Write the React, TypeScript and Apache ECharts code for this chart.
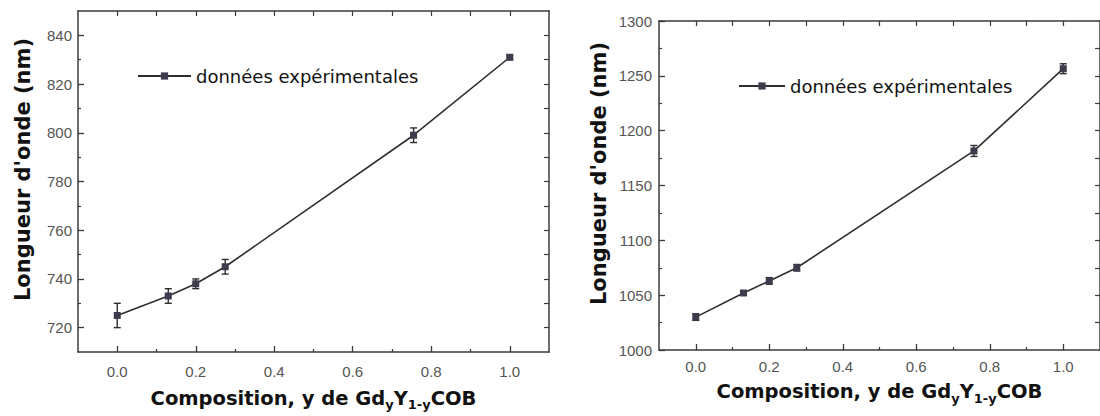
import React, { useEffect, useRef } from "react";
import * as echarts from "echarts";

// ---------- data ----------
const compositionLeft = [0, 0.13, 0.2, 0.275, 0.755, 1.0];
const wavelengthLeft = [725, 733, 738, 745, 799, 831];
const errorLeft = [5, 3, 2, 3, 3, 1];

const compositionRight = [0, 0.13, 0.2, 0.275, 0.757, 1.0];
const wavelengthRight = [1030, 1052, 1063, 1075, 1181.5, 1256.5];
const errorRight = [3, 2, 3, 3, 5, 4.5];

const xMajorTicks = [0, 0.2, 0.4, 0.6, 0.8, 1.0];
const xMinorTicks = [0.1, 0.3, 0.5, 0.7, 0.9];
const xTopTicks = [0, 0.1, 0.2, 0.3, 0.4, 0.5, 0.6, 0.7, 0.8, 0.9, 1.0];
const yLeftMajorTicks = [720, 740, 760, 780, 800, 820, 840];
const yLeftMinorTicks = [730, 750, 770, 790, 810, 830];
const yLeftAllTicks = [720, 730, 740, 750, 760, 770, 780, 790, 800, 810, 820, 830, 840];
const yRightMajorTicks = [1000, 1050, 1100, 1150, 1200, 1250, 1300];
const yRightMinorTicks = [1025, 1075, 1125, 1175, 1225, 1275];
const yRightAllTicks = [1025, 1050, 1075, 1100, 1125, 1150, 1175, 1200, 1225, 1250, 1275];

const seriesName = "données expérimentales";
const yTitle = "Longueur d'onde (nm)";
const xTitle = "Composition, y de Gd{sub|y}Y{sub|1-y}COB";

// ---------- styles ----------
const AXIS_COLOR = "#3a3a3a";
const LABEL_COLOR = "#555";
const LINE_COLOR = "#2e2e2e";
const MARKER_COLOR = "#3c3c4e";
const TITLE_FONT = "DejaVu Sans";
const LABEL_FONT = "Liberation Sans";

const axisLineStyle = { show: true, onZero: false, lineStyle: { color: AXIS_COLOR, width: 1.5 } };
const hiddenLine = { show: false, onZero: false };

function xAxes(grid: number, min: number, max: number, labelMargin: number, nameGap: number) {
  return [
    {
      gridIndex: grid, type: "value", position: "bottom", min, max,
      axisLine: axisLineStyle,
      axisTick: { show: true, inside: true, length: 6, customValues: xMajorTicks, lineStyle: { color: AXIS_COLOR, width: 1.3 } },
      axisLabel: {
        show: true, customValues: xMajorTicks, margin: labelMargin, color: LABEL_COLOR, fontFamily: LABEL_FONT, fontSize: 15,
        formatter: (v: number) => v.toFixed(1),
      },
      splitLine: { show: false },
      name: xTitle, nameLocation: "middle", nameGap,
      nameTextStyle: {
        fontFamily: TITLE_FONT, fontWeight: "bold", fontSize: 19.5, color: "#111", lineHeight: 26,
        rich: { sub: { fontFamily: TITLE_FONT, fontWeight: "bold", fontSize: 13, lineHeight: 13, verticalAlign: "bottom", color: "#111" } },
      },
    },
    {
      gridIndex: grid, type: "value", position: "bottom", min, max,
      axisLine: hiddenLine,
      axisTick: { show: true, inside: true, length: 3, customValues: xMinorTicks, lineStyle: { color: AXIS_COLOR, width: 1.2 } },
      axisLabel: { show: false },
      splitLine: { show: false },
    },
    {
      gridIndex: grid, type: "value", position: "top", min, max,
      axisLine: axisLineStyle,
      axisTick: { show: true, inside: true, length: 5, customValues: xTopTicks, lineStyle: { color: AXIS_COLOR, width: 1.2 } },
      axisLabel: { show: false },
      splitLine: { show: false },
    },
  ];
}

function yAxes(grid: number, min: number, max: number, major: number[], minor: number[], all: number[], nameGap: number, margin: number) {
  return [
    {
      gridIndex: grid, type: "value", position: "left", min, max,
      axisLine: axisLineStyle,
      axisTick: { show: true, inside: true, length: 6, customValues: major, lineStyle: { color: AXIS_COLOR, width: 1.3 } },
      axisLabel: {
        show: true, customValues: major, margin, color: LABEL_COLOR, fontFamily: LABEL_FONT, fontSize: 15,
        formatter: (v: number) => String(v),
      },
      splitLine: { show: false },
      name: yTitle, nameLocation: "middle", nameGap,
      nameTextStyle: { fontFamily: TITLE_FONT, fontWeight: "bold", fontSize: 21, color: "#111", padding: [0, 0, 0, 24] },
    },
    {
      gridIndex: grid, type: "value", position: "left", min, max,
      axisLine: hiddenLine,
      axisTick: { show: true, inside: true, length: 3, customValues: minor, lineStyle: { color: AXIS_COLOR, width: 1.2 } },
      axisLabel: { show: false },
      splitLine: { show: false },
    },
    {
      gridIndex: grid, type: "value", position: "right", min, max,
      axisLine: axisLineStyle,
      axisTick: { show: true, inside: true, length: 5, customValues: all, lineStyle: { color: AXIS_COLOR, width: 1.2 } },
      axisLabel: { show: false },
      splitLine: { show: false },
    },
  ];
}

function errorBarSeries(xIdx: number, yIdx: number, xs: number[], ys: number[], errs: number[]) {
  return {
    type: "custom",
    name: "errors",
    xAxisIndex: xIdx,
    yAxisIndex: yIdx,
    z: 3,
    data: xs.map((x, i) => [x, ys[i] - errs[i], ys[i] + errs[i]]),
    encode: { x: 0, y: [1, 2] },
    renderItem: (_params: any, api: any) => {
      const x = api.value(0);
      const p1 = api.coord([x, api.value(1)]);
      const p2 = api.coord([x, api.value(2)]);
      const w = 3.5;
      const style = { stroke: LINE_COLOR, lineWidth: 1.4 };
      return {
        type: "group",
        children: [
          { type: "line", shape: { x1: p1[0], y1: p1[1], x2: p2[0], y2: p2[1] }, style },
          { type: "line", shape: { x1: p1[0] - w, y1: p1[1], x2: p1[0] + w, y2: p1[1] }, style },
          { type: "line", shape: { x1: p2[0] - w, y1: p2[1], x2: p2[0] + w, y2: p2[1] }, style },
        ],
      };
    },
  };
}

function lineSeries(xIdx: number, yIdx: number, xs: number[], ys: number[]) {
  return {
    type: "line",
    name: seriesName,
    xAxisIndex: xIdx,
    yAxisIndex: yIdx,
    z: 4,
    data: xs.map((x, i) => [x, ys[i]]),
    symbol: "rect",
    symbolSize: 7,
    showAllSymbol: true,
    itemStyle: { color: MARKER_COLOR },
    lineStyle: { color: LINE_COLOR, width: 1.6 },
  };
}

export default function App() {
  const ref = useRef<HTMLDivElement>(null);
  useEffect(() => {
    if (!ref.current) return;
    const chart = echarts.init(ref.current, undefined, { renderer: "svg" });
    chart.setOption({
      animation: false,
      backgroundColor: "#ffffff",
      grid: [
        { left: 78, top: 11, width: 471, height: 350 },
        { left: 659, top: 21, width: 446, height: 329 },
      ],
      legend: [
        {
          data: [seriesName], left: 137, top: 67, padding: 0, itemWidth: 53, itemHeight: 9,
          textStyle: { fontFamily: TITLE_FONT, fontSize: 18, color: "#111" },
          selectedMode: false,
        },
        {
          data: [seriesName], left: 738, top: 77, padding: 0, itemWidth: 46, itemHeight: 9,
          textStyle: { fontFamily: TITLE_FONT, fontSize: 18, color: "#111" },
          selectedMode: false,
        },
      ],
      xAxis: [...xAxes(0, -0.1, 1.1, 12, 33), ...xAxes(1, -0.1, 1.1, 9, 27)],
      yAxis: [
        ...yAxes(0, 710, 850, yLeftMajorTicks, yLeftMinorTicks, yLeftAllTicks, 45, 6),
        ...yAxes(1, 1000, 1300, yRightMajorTicks, yRightMinorTicks, yRightAllTicks, 50, 7),
      ],
      series: [
        errorBarSeries(0, 0, compositionLeft, wavelengthLeft, errorLeft),
        lineSeries(0, 0, compositionLeft, wavelengthLeft),
        errorBarSeries(3, 3, compositionRight, wavelengthRight, errorRight),
        lineSeries(3, 3, compositionRight, wavelengthRight),
      ],
    });
    return () => chart.dispose();
  }, []);
  return (
    <div
      ref={ref}
      style={{ position: "fixed", left: 0, top: 0, width: 1100, height: 416, background: "#fff" }}
    />
  );
}
